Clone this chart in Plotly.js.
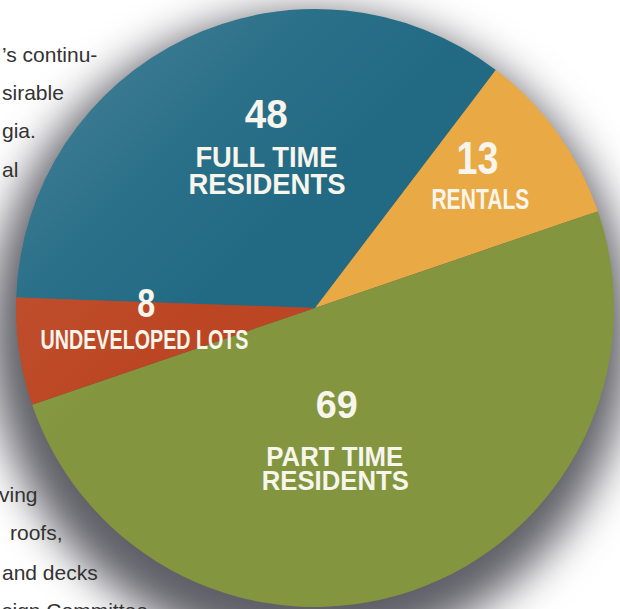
<!DOCTYPE html>
<html>
<head>
<meta charset="utf-8">
<script src="https://cdn.plot.ly/plotly-3.0.1.min.js"></script>
<style>
html, body { margin: 0; padding: 0; background: #ffffff; }
#chart { width: 620px; height: 609px; }
</style>
</head>
<body>
<div id="chart"></div>
<script>
// ---- data ----
const categories = ["FULL TIME RESIDENTS", "RENTALS", "PART TIME RESIDENTS", "UNDEVELOPED LOTS"];
const counts = [48, 13, 69, 8];
const labelLines = [["FULL TIME", "RESIDENTS"], ["RENTALS"], ["PART TIME", "RESIDENTS"], ["UNDEVELOPED LOTS"]];
const sliceColors = ["#226a84", "#e9a945", "#83963f", "#bc4623"];
const pageTextTop = ["\u2019s continu-", "sirable", "gia.", "al"];
const pageTextBottom = ["ving", "roofs,", "and decks", "sign Committee"];

// ---- geometry / style (pixels) ----
const W = 620, H = 609;
const CX = 315, CY = 308, R = 299;            // pie centre and radius
const SH = { cx: 310, cy: 334, r: 320 };       // soft shadow disc
const px = x => x / W;
const py = y => 1 - y / H;

const BOLD = "Liberation Sans, Arial, sans-serif";
const TXT = "#f7f5ec";

// label placement per category: number + lines (x, y = centre; w = target text width)
const labelStyle = [
  { num: { x: 266, y: 114, size: 40, w: 43 },
    lines: [{ x: 266, y: 157.5, size: 29, w: 142 }, { x: 266.5, y: 184, size: 29, w: 157 }] },
  { num: { x: 477.5, y: 158, size: 46, w: 42 },
    lines: [{ x: 480, y: 199, size: 29, w: 98 }] },
  { num: { x: 336, y: 404, size: 39, w: 42 },
    lines: [{ x: 335, y: 457, size: 27, w: 137 }, { x: 335, y: 480.5, size: 27, w: 147 }] },
  { num: { x: 146, y: 302.5, size: 40, w: 18 },
    lines: [{ x: 144, y: 339.5, size: 27, w: 208 }] }
];

const annotations = [];
const fitWidths = [];
counts.forEach((v, i) => {
  const st = labelStyle[i];
  annotations.push({
    text: String(v), x: px(st.num.x), y: py(st.num.y), xref: "paper", yref: "paper",
    xanchor: "center", yanchor: "middle", showarrow: false,
    font: { family: BOLD, size: st.num.size, color: TXT, weight: "bold" }
  });
  fitWidths.push(st.num.w);
  labelLines[i].forEach((ln, j) => {
    const s = st.lines[j];
    annotations.push({
      text: ln, x: px(s.x), y: py(s.y), xref: "paper", yref: "paper",
      xanchor: "center", yanchor: "middle", showarrow: false,
      font: { family: BOLD, size: s.size, color: TXT, weight: "bold" }
    });
    fitWidths.push(s.w);
  });
});

// background page text (partly hidden by the chart)
const BODY = { size: 21, color: "#333333", fam: "Liberation Sans, Arial, sans-serif" };
const topBase = [62, 100, 138, 177];
const topX = [0, 0, 0, 0];
const botBase = [502, 540, 580, 618];
const botX = [-3, 8, 0, 0];
pageTextTop.forEach((t, i) => annotations.push({
  text: t, x: px(topX[i]), y: py(topBase[i] - 0.3465 * BODY.size), xref: "paper", yref: "paper",
  xanchor: "left", yanchor: "middle", showarrow: false,
  font: { family: BODY.fam, size: BODY.size, color: BODY.color }
}));
pageTextBottom.forEach((t, i) => annotations.push({
  text: t, x: px(botX[i]), y: py(botBase[i] - 0.3465 * BODY.size), xref: "paper", yref: "paper",
  xanchor: "left", yanchor: "middle", showarrow: false,
  font: { family: BODY.fam, size: BODY.size, color: BODY.color }
}));

const trace = {
  type: "pie",
  labels: categories,
  values: counts,
  sort: false,
  direction: "clockwise",
  rotation: -88,
  marker: { colors: sliceColors, line: { width: 0 } },
  textinfo: "none",
  hoverinfo: "label+value",
  showlegend: false,
  domain: { x: [px(CX - R), px(CX + R)], y: [py(CY + R), py(CY - R)] }
};

const layout = {
  width: W, height: H,
  margin: { l: 0, r: 0, t: 0, b: 0 },
  paper_bgcolor: "#ffffff",
  showlegend: false,
  shapes: [
    { // drop shadow under the pie
      type: "circle", layer: "below", xref: "paper", yref: "paper",
      x0: px(SH.cx - SH.r), x1: px(SH.cx + SH.r),
      y0: py(SH.cy + SH.r), y1: py(SH.cy - SH.r),
      fillcolor: "rgba(55,55,65,0.8)", line: { width: 0 }
    },
    { // soft light on the upper-left rim
      type: "circle", layer: "above", xref: "paper", yref: "paper",
      x0: px(CX - R), x1: px(CX + R),
      y0: py(CY + R), y1: py(CY - R),
      fillcolor: "rgba(255,255,255,0)", line: { width: 0 }
    }
  ],
  annotations: annotations
};

Plotly.newPlot("chart", [trace], layout, { staticPlot: true, displayModeBar: false }).then(gd => {
  // squeeze the condensed label lettering to the reference widths
  fitWidths.forEach((w, i) => {
    const t = gd.querySelector('.annotation[data-index="' + i + '"] text.annotation-text');
    if (t) { t.setAttribute("textLength", w); t.setAttribute("lengthAdjust", "spacingAndGlyphs"); }
  });
  // soften the shadow disc
  gd.querySelectorAll(".layer-below .shapelayer path").forEach(p => { p.style.filter = "blur(22px)"; });
  // gradient light overlay
  const NS = "http://www.w3.org/2000/svg";
  const svg = gd.querySelector("svg.main-svg");
  let defs = svg.querySelector("defs");
  if (!defs) { defs = document.createElementNS(NS, "defs"); svg.insertBefore(defs, svg.firstChild); }
  const g = document.createElementNS(NS, "linearGradient");
  g.setAttribute("id", "pieGloss");
  g.setAttribute("x1", "0.1"); g.setAttribute("y1", "0.1");
  g.setAttribute("x2", "0.4"); g.setAttribute("y2", "0.4");
  [["0", 0.13], ["0.5", 0.04], ["1", 0]].forEach(([o, a]) => {
    const s = document.createElementNS(NS, "stop");
    s.setAttribute("offset", o);
    s.setAttribute("stop-color", "#ffffff");
    s.setAttribute("stop-opacity", a);
    g.appendChild(s);
  });
  defs.appendChild(g);
  gd.querySelectorAll(".layer-above .shapelayer path").forEach(p => {
    p.style.fill = "url(#pieGloss)";
    p.style.fillOpacity = "1";
  });
});
</script>
</body>
</html>
